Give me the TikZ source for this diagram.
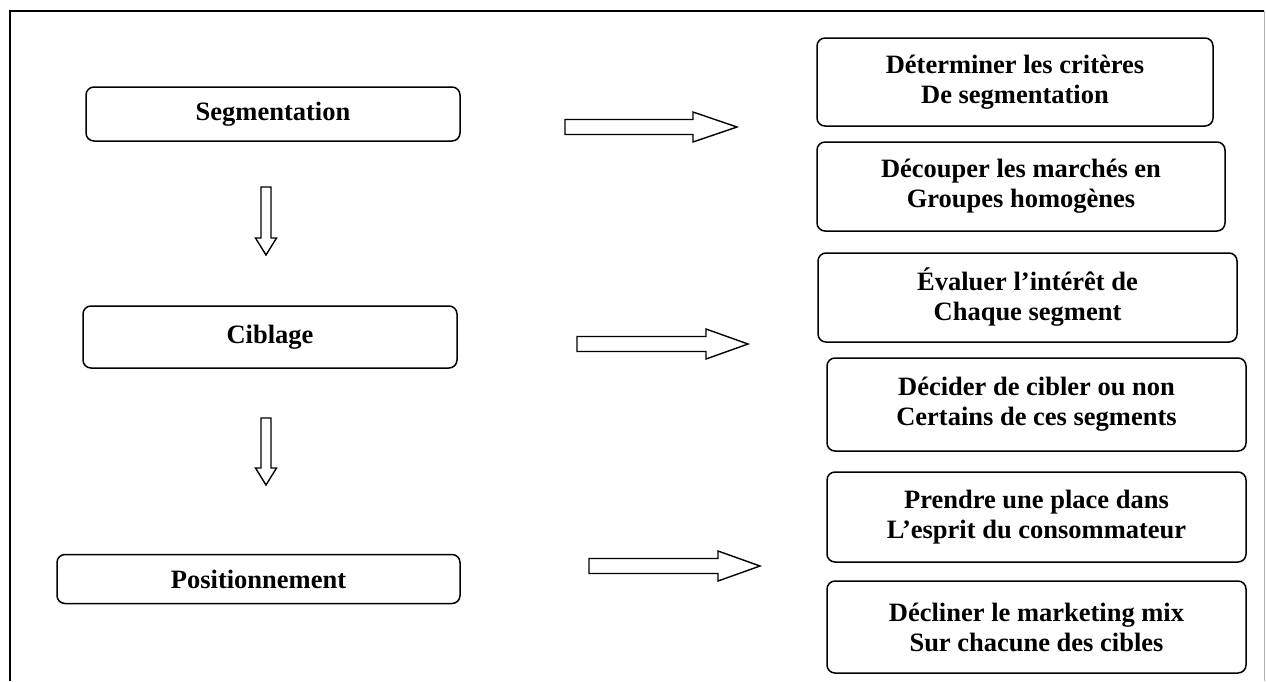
\documentclass[tikz,border=0pt]{standalone}
\usepackage{fontspec}
\setmainfont{Liberation Serif}
\begin{document}
\begin{tikzpicture}[x=1pt,y=-1pt,
  stagebox/.style={draw=black, line width=1.5pt, rounded corners=8pt, fill=white,
    inner sep=0pt, align=center,
    font=\fontsize{26.5pt}{30pt}\selectfont\bfseries},
  blockarrow/.style={draw=black, line width=1.4pt, fill=white, line join=miter}]
\useasboundingbox (0,0) rectangle (1266,681);
\fill[white] (0,0) rectangle (1266,681);

% outer frame
\draw[line width=1.8pt] (10,681) -- (10,11) -- (1264,11);
\draw[line width=1pt, gray!60] (1264,11) -- (1264,681);

% main stages
\node[stagebox, minimum width=374pt, minimum height=54pt] (seg) at (273,114) {Segmentation};
\node[stagebox, minimum width=374pt, minimum height=62pt] (cib) at (270,337) {Ciblage};
\node[stagebox, minimum width=403pt, minimum height=49pt] (pos) at (258.5,579) {Positionnement};

% detail boxes
\node[stagebox, minimum width=396pt, minimum height=88pt] (d1) at (1015,82)
  {Déterminer les critères\\De segmentation};
\node[stagebox, minimum width=408pt, minimum height=89pt] (d2) at (1021,186.5)
  {Découper les marchés en\\Groupes homogènes};
\node[stagebox, minimum width=419pt, minimum height=89pt] (d3) at (1027.5,297.5)
  {Évaluer l’intérêt de\\Chaque segment};
\node[stagebox, minimum width=419pt, minimum height=93pt] (d4) at (1036.5,404.5)
  {Décider de cibler ou non\\Certains de ces segments};
\node[stagebox, minimum width=419pt, minimum height=90pt] (d5) at (1036.5,517)
  {Prendre une place dans\\L’esprit du consommateur};
\node[stagebox, minimum width=419pt, minimum height=92pt] (d6) at (1036.5,627)
  {Décliner le marketing mix\\Sur chacune des cibles};

% hollow block arrows pointing right: start x, head x, tip x, centre y
\newcommand\rightblock[4]{%
  \draw[blockarrow] (#1,#4-7.5) -- (#2,#4-7.5) -- (#2,#4-15) -- (#3,#4)
    -- (#2,#4+15) -- (#2,#4+7.5) -- (#1,#4+7.5) -- cycle;}
% hollow block arrows pointing down: centre x, start y, head y, tip y
\newcommand\downblock[4]{%
  \draw[blockarrow] (#1-5,#2) -- (#1+5,#2) -- (#1+5,#3) -- (#1+10.5,#3) -- (#1,#4)
    -- (#1-10.5,#3) -- (#1-5,#3) -- cycle;}

\rightblock{565}{693}{737}{127}
\rightblock{577}{706}{748}{344}
\rightblock{589}{718}{760}{566}

\downblock{266}{187}{238}{255}
\downblock{266}{418}{468}{485}
\end{tikzpicture}
\end{document}
